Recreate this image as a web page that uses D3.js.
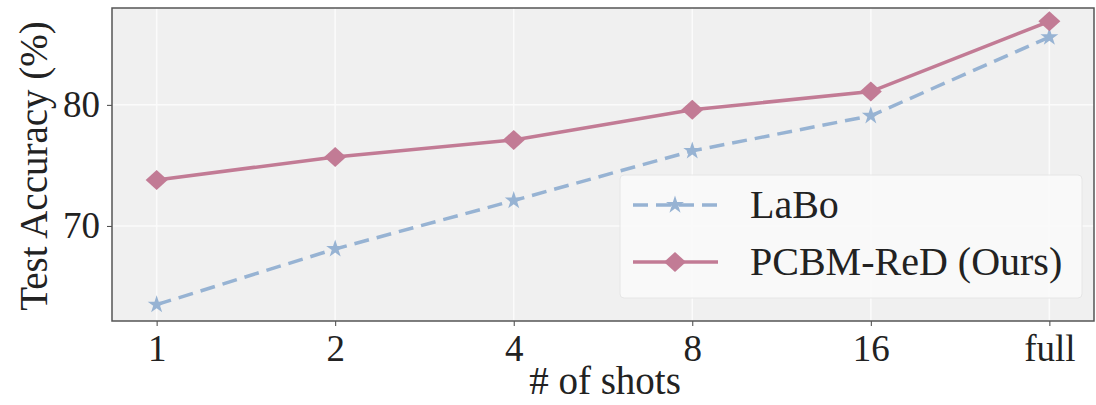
<!DOCTYPE html>
<html>
<head>
<meta charset="utf-8">
<script src="https://cdn.jsdelivr.net/npm/d3@7"></script>
<style>
  body { margin: 0; background: #fff; }
  text { font-family: "Liberation Serif", "DejaVu Serif", serif; fill: #222; }
</style>
</head>
<body>
<svg width="1096" height="405"></svg>
<script>
const SHOTS = ["1", "2", "4", "8", "16", "full"];
const LABO = [63.5, 68.1, 72.1, 76.2, 79.1, 85.6];
const OURS = [73.8, 75.7, 77.1, 79.6, 81.1, 86.9];
const Y_TICKS = [70, 80];
const SERIES_NAMES = ["LaBo", "PCBM-ReD (Ours)"];

const MARGIN = { top: 8, right: 2, bottom: 84, left: 112 };
const WIDTH = 1096;
const HEIGHT = 405;
const BLUE = "#97b3d3";
const PINK = "#c27b95";

const svg = d3.select("svg");
const innerW = WIDTH - MARGIN.left - MARGIN.right;
const innerH = HEIGHT - MARGIN.top - MARGIN.bottom;

const x = d3.scalePoint().domain(SHOTS).range([0, innerW]).padding(0.25);
const y = d3.scaleLinear().domain([62.15, 88.0]).range([innerH, 0]);

const g = svg.append("g").attr("transform", `translate(${MARGIN.left},${MARGIN.top})`);

// background + grid
g.append("rect").attr("width", innerW).attr("height", innerH).attr("fill", "#f0f0f0");
g.selectAll(".vgrid").data(SHOTS).enter().append("line")
  .attr("x1", d => x(d)).attr("x2", d => x(d))
  .attr("y1", 0).attr("y2", innerH)
  .attr("stroke", "#fbfbfb").attr("stroke-width", 1.5);
g.selectAll(".hgrid").data(Y_TICKS).enter().append("line")
  .attr("x1", 0).attr("x2", innerW)
  .attr("y1", d => y(d)).attr("y2", d => y(d))
  .attr("stroke", "#fbfbfb").attr("stroke-width", 1.5);

// axes
const xAxis = g.append("g").attr("transform", `translate(0,${innerH})`)
  .call(d3.axisBottom(x).tickSize(5).tickPadding(9));
const yAxis = g.append("g")
  .call(d3.axisLeft(y).tickValues(Y_TICKS).tickSize(5).tickPadding(7));
[xAxis, yAxis].forEach(a => {
  a.select(".domain").remove();
  a.selectAll("line").attr("stroke", "#444");
  a.selectAll("text").style("font-size", "37px").attr("fill", "#222");
});

g.append("rect").attr("width", innerW).attr("height", innerH)
  .attr("fill", "none").attr("stroke", "#555").attr("stroke-width", 1.5);

// lines
const line = d3.line().x((d, i) => x(SHOTS[i])).y(d => y(d));

g.append("path").datum(LABO).attr("d", line)
  .attr("fill", "none").attr("stroke", BLUE).attr("stroke-width", 3.5)
  .attr("stroke-dasharray", "15,8");
g.append("path").datum(OURS).attr("d", line)
  .attr("fill", "none").attr("stroke", PINK).attr("stroke-width", 3.5);

const star = d3.symbol().type(d3.symbolStar).size(100);
const diamond = "M0,-10L11,0L0,10L-11,0Z";

g.selectAll(".labo-pt").data(LABO).enter().append("path")
  .attr("transform", (d, i) => `translate(${x(SHOTS[i])},${y(d)})`)
  .attr("d", star).attr("fill", BLUE);
g.selectAll(".ours-pt").data(OURS).enter().append("path")
  .attr("transform", (d, i) => `translate(${x(SHOTS[i])},${y(d)})`)
  .attr("d", diamond).attr("fill", PINK);

// labels
svg.append("text")
  .attr("x", 605).attr("y", 394)
  .attr("text-anchor", "middle").style("font-size", "39px")
  .text("# of shots");
svg.append("text")
  .attr("transform", `translate(47,166) rotate(-90)`)
  .attr("text-anchor", "middle").style("font-size", "39px")
  .text("Test Accuracy (%)");

// legend
const lg = g.append("g").attr("transform", `translate(${620 - MARGIN.left},${175 - MARGIN.top})`);
lg.append("rect").attr("width", 462).attr("height", 123).attr("rx", 4)
  .attr("fill", "#fafafa").attr("fill-opacity", 0.92).attr("stroke", "#e6e6e6");
const rows = [
  { name: SERIES_NAMES[0], color: BLUE, dash: "15,8", sym: star },
  { name: SERIES_NAMES[1], color: PINK, dash: null, sym: diamond }
];
rows.forEach((r, i) => {
  const cy = 30 + i * 57;
  lg.append("line").attr("x1", 13).attr("x2", 98).attr("y1", cy).attr("y2", cy)
    .attr("stroke", r.color).attr("stroke-width", 3.5)
    .attr("stroke-dasharray", r.dash);
  lg.append("path").attr("transform", `translate(55,${cy})`).attr("d", r.sym).attr("fill", r.color);
  lg.append("text").attr("x", 130).attr("y", cy + 13).style("font-size", "40px").text(r.name);
});
</script>
</body>
</html>
